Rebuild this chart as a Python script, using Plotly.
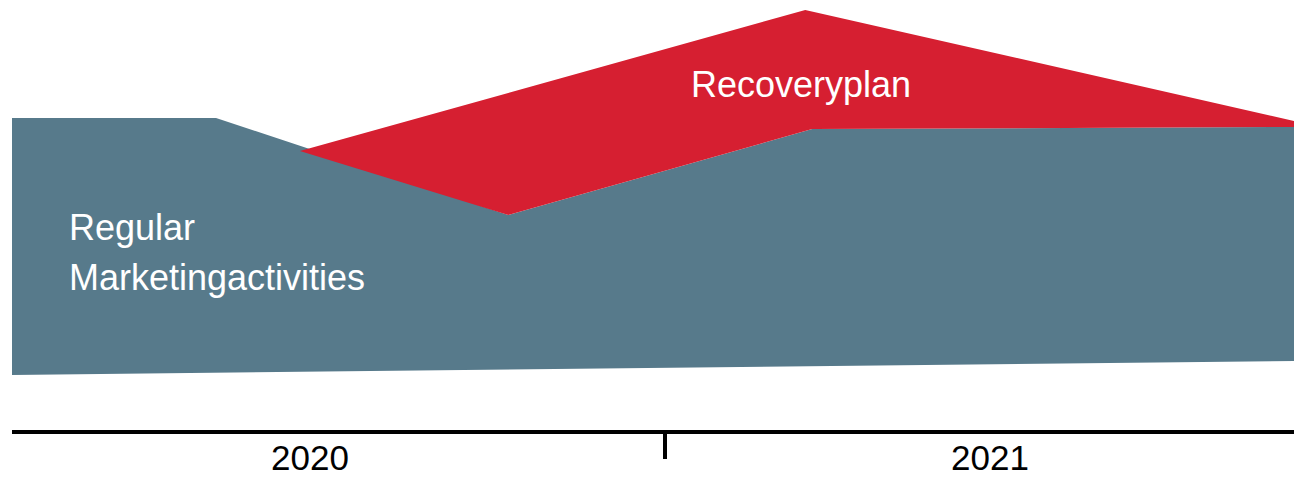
import plotly.graph_objects as go

# Time axis in months from start of 2020 (0..24)
years = ["2020", "2021"]
year_centers = [5.58, 18.31]
year_split = 12.22

# Regular marketing activities: outline (months, level)
regular_top_x = [0, 3.82, 9.29, 14.98, 24]
regular_top_y = [312, 312, 215, 301, 303]
regular_bottom_x = [0, 24]
regular_bottom_y = [55, 69]

# Recovery plan: upper edge and lower edge
recovery_top_x = [5.39, 14.85, 24]
recovery_top_y = [279, 420, 309]
recovery_bottom_x = [5.39, 9.29, 14.98, 24]
recovery_bottom_y = [279, 215, 301, 303]

BLUE = "#577A8B"
RED = "#D61F31"
FONT = "Liberation Sans, Arial, sans-serif"

fig = go.Figure()

# Regular polygon
bx = regular_top_x + regular_bottom_x[::-1] + [regular_top_x[0]]
by = regular_top_y + regular_bottom_y[::-1] + [regular_top_y[0]]
fig.add_trace(go.Scatter(x=bx, y=by, mode="lines", fill="toself",
                         fillcolor=BLUE, line=dict(width=0, color=BLUE),
                         hoverinfo="skip", showlegend=False))

# Recovery polygon
rx = recovery_top_x + recovery_bottom_x[::-1]
ry = recovery_top_y + recovery_bottom_y[::-1]
fig.add_trace(go.Scatter(x=rx, y=ry, mode="lines", fill="toself",
                         fillcolor=RED, line=dict(width=0, color=RED),
                         hoverinfo="skip", showlegend=False))

fig.add_annotation(x=1.03, y=203, xref="x", yref="y", text="Regular",
                   showarrow=False, xanchor="left", yanchor="middle", align="left",
                   font=dict(family=FONT, size=36, color="white"))
fig.add_annotation(x=1.03, y=153, xref="x", yref="y", text="Marketingactivities",
                   showarrow=False, xanchor="left", yanchor="middle", align="left",
                   font=dict(family=FONT, size=36, color="white"))
fig.add_annotation(x=14.77, y=346, xref="x", yref="y", text="Recoveryplan",
                   showarrow=False, xanchor="center", yanchor="middle",
                   font=dict(family=FONT, size=36, color="white"))

for xc, label in zip(year_centers, years):
    fig.add_annotation(x=xc, y=-0.065, xref="x", yref="paper", text=label,
                       showarrow=False, xanchor="center", yanchor="middle",
                       font=dict(family=FONT, size=35, color="black"))

fig.update_layout(
    width=1294, height=477,
    margin=dict(l=12, r=0, t=0, b=47),
    paper_bgcolor="white", plot_bgcolor="white",
    xaxis=dict(range=[0, 24], showgrid=False, zeroline=False, automargin=False,
               showline=True, linecolor="black", linewidth=4,
               tickvals=[year_split], ticktext=[""], showticklabels=False,
               ticks="outside", ticklen=25, tickwidth=4, tickcolor="black"),
    yaxis=dict(range=[0, 430], visible=False, showgrid=False, zeroline=False,
               automargin=False),
)

post = (
    "document.documentElement.style.margin='0';"
    "document.documentElement.style.padding='0';"
    "document.documentElement.style.overflow='hidden';"
    "document.body.style.margin='0';"
    "document.body.style.padding='0';"
    "document.body.style.overflow='hidden';"
)

fig.write_html("out.html", config={"displayModeBar": False}, post_script=post)
